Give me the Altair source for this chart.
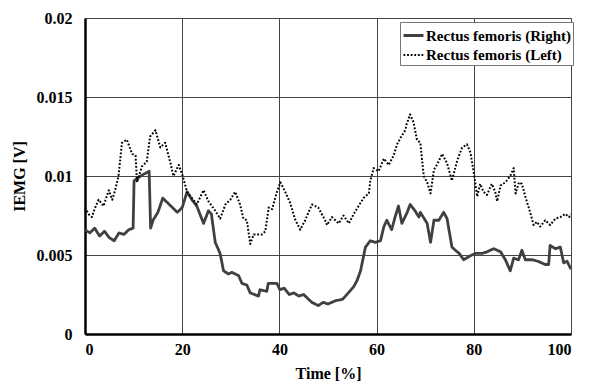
import altair as alt
import pandas as pd

# Rectus femoris (Right) - solid
right_x = [0, 1, 2, 3, 4, 5, 6, 7, 8, 9, 9.9, 10.1, 11, 12, 13.2, 13.5, 14, 15, 16, 17, 18, 19, 20, 21,
           22, 23, 24.4, 25.4, 26, 26.8, 27.8, 28.5, 29.5, 30.2, 31.6, 32.3, 33.3, 34, 35.7, 36, 37.4,
           37.7, 39.5, 40.1, 41, 42, 43, 44, 45, 46, 46.7, 48, 49, 50, 51.5, 53, 53.6, 55.3, 56, 56.7,
           57.7, 58.7, 59.7, 60.8, 61.5, 62.1, 63.1, 63.8, 64.5, 65.2, 66.3, 66.9, 67.9, 68.7, 69, 70.4,
           71.1, 71.8, 72.8, 73.8, 74.5, 75.5, 76.2, 77, 77.9, 79, 80.3, 81.7, 82.7, 84.1, 85.5, 86.5,
           87.5, 88.2, 89.2, 89.9, 90.6, 92, 93.2, 94.7, 95.4, 95.7, 96.8, 97.8, 98.5, 99.2, 100]
right_y = [0.0066, 0.0064, 0.0067, 0.0062, 0.0065, 0.0061, 0.0059, 0.0064, 0.0063, 0.0066, 0.0067,
           0.0097, 0.0099, 0.0101, 0.0103, 0.0067, 0.0072, 0.0077, 0.0086, 0.0083, 0.0080, 0.0077,
           0.0080, 0.0090, 0.0085, 0.0081, 0.0070, 0.0078, 0.0076, 0.0058, 0.0051, 0.0040, 0.0038,
           0.0039, 0.0037, 0.0032, 0.0031, 0.0026, 0.0024, 0.0028, 0.0027, 0.0032, 0.0032, 0.0028,
           0.0029, 0.0025, 0.0026, 0.0024, 0.0025, 0.0022, 0.0020, 0.0018, 0.0020, 0.0019, 0.0021,
           0.0022, 0.0024, 0.0030, 0.0034, 0.0040, 0.0055, 0.0059, 0.0058, 0.0059, 0.0068, 0.0072,
           0.0066, 0.0074, 0.0081, 0.0070, 0.0077, 0.0082, 0.0078, 0.0074, 0.0077, 0.0070, 0.0058,
           0.0072, 0.0072, 0.0077, 0.0073, 0.0055, 0.0053, 0.0051, 0.0047, 0.0049, 0.0051, 0.0051,
           0.0052, 0.0054, 0.0052, 0.0047, 0.0040, 0.0048, 0.0047, 0.0053, 0.0047, 0.0047, 0.0046,
           0.0044, 0.0044, 0.0056, 0.0054, 0.0055, 0.0045, 0.0046, 0.0041]

# Rectus femoris (Left) - dotted
left_x = [0, 0.7, 1.4, 2.1, 2.8, 3.8, 4.9, 5.6, 6.2, 6.9, 7.6, 8.6, 9.7, 10.4, 10.7, 11.7, 12.7, 13.4,
          14.5, 15.5, 16.5, 17.6, 18.2, 19.3, 20, 21, 22, 23, 24.4, 25.4, 26.8, 27.8, 28.9, 29.9, 30.9,
          31.9, 32.6, 33.3, 34, 34.7, 36.4, 37.1, 37.8, 38.5, 39.5, 40.2, 41.2, 42.2, 43.3, 44.3, 45.3,
          46.7, 48, 49.4, 49.8, 50.8, 52.2, 53.2, 54.3, 55.3, 56.3, 57.3, 58.4, 58.7, 59.4, 60.4, 61.5,
          62.5, 63.5, 64.2, 64.9, 65.9, 66.2, 66.9, 67.6, 68.3, 69, 69.7, 70.4, 71.1, 71.8, 72.4, 73.5,
          74.5, 75.5, 76.6, 77.6, 78.6, 79.3, 80, 80.7, 81.3, 82, 82.7, 83.7, 84.4, 84.8, 85.5, 86.5,
          87.5, 88.2, 88.6, 89.3, 89.9, 90.6, 91.6, 92.3, 93, 93.7, 94.7, 95.7, 96.8, 97.8, 98.8, 99.6, 100]
left_y = [0.0080, 0.0076, 0.0074, 0.0080, 0.0085, 0.0081, 0.0091, 0.0085, 0.0091, 0.0100, 0.0121,
          0.0123, 0.0114, 0.0113, 0.0096, 0.0106, 0.0109, 0.0125, 0.0129, 0.0118, 0.0121, 0.0108,
          0.0100, 0.0107, 0.0101, 0.0090, 0.0086, 0.0082, 0.0091, 0.0084, 0.0078, 0.0073, 0.0082,
          0.0085, 0.0090, 0.0082, 0.0073, 0.0072, 0.0057, 0.0063, 0.0063, 0.0065, 0.0080, 0.0079,
          0.0090, 0.0096, 0.0090, 0.0083, 0.0072, 0.0066, 0.0072, 0.0082, 0.0080, 0.0072, 0.0069,
          0.0074, 0.0070, 0.0075, 0.0070, 0.0076, 0.0081, 0.0086, 0.0089, 0.0097, 0.0105, 0.0103,
          0.0111, 0.0107, 0.0113, 0.0120, 0.0124, 0.0129, 0.0133, 0.0139, 0.0134, 0.0123, 0.0121,
          0.0100, 0.0096, 0.0089, 0.0104, 0.0107, 0.0114, 0.0108, 0.0097, 0.0110, 0.0118, 0.0120,
          0.0115, 0.0102, 0.0087, 0.0095, 0.0090, 0.0088, 0.0095, 0.0090, 0.0084, 0.0094, 0.0096,
          0.0100, 0.0105, 0.0089, 0.0096, 0.0095, 0.0087, 0.0077, 0.0069, 0.0071, 0.0068, 0.0072,
          0.0069, 0.0073, 0.0074, 0.0076, 0.0074, 0.0076]

series_names = ["Rectus femoris (Right)", "Rectus femoris (Left)"]
x_ticks = [0, 20, 40, 60, 80, 100]
y_ticks = [0, 0.005, 0.01, 0.015, 0.02]

df = pd.concat([
    pd.DataFrame({"time": right_x, "iemg": right_y, "series": series_names[0], "order": range(len(right_x))}),
    pd.DataFrame({"time": left_x, "iemg": left_y, "series": series_names[1], "order": range(len(left_x))}),
])

FONT = "Liberation Serif"

chart = alt.Chart(df).mark_line(strokeJoin="round").encode(
    x=alt.X("time:Q", title="Time [%]",
            scale=alt.Scale(domain=[0, 100], nice=False),
            axis=alt.Axis(values=x_ticks, ticks=False, labelPadding=7, titlePadding=8,
                          gridColor="#444", gridWidth=1, domainColor="#000", domainWidth=2.5)),
    y=alt.Y("iemg:Q", title="IEMG [V]",
            scale=alt.Scale(domain=[0, 0.02], nice=False),
            axis=alt.Axis(values=y_ticks, format="~g", ticks=False, labelPadding=13,
                          titlePadding=9,
                          gridColor="#444", gridWidth=1, domainColor="#000", domainWidth=2.5)),
    color=alt.Color("series:N", title=None,
                    scale=alt.Scale(domain=series_names, range=["#404040", "#000000"])),
    strokeDash=alt.StrokeDash("series:N", title=None,
                              scale=alt.Scale(domain=series_names, range=[[1, 0], [1.8, 1.8]])),
    strokeWidth=alt.StrokeWidth("series:N", title=None,
                                scale=alt.Scale(domain=series_names, range=[2.8, 2.0])),
    order="order:Q",
    detail="series:N",
).properties(
    width=486, height=316,
    autosize=alt.AutoSizeParams(type="none"),
    padding={"left": 85, "top": 18, "right": 18, "bottom": 56},
).configure_view(strokeWidth=0).configure_axis(
    labelFont=FONT, titleFont=FONT, labelFontSize=16, titleFontSize=16,
    labelFontWeight="bold", titleFontWeight="bold", labelColor="#000", titleColor="#000",
).configure_legend(
    orient="none", legendX=315, legendY=4,
    labelFont=FONT, labelFontSize=15, labelFontWeight="bold", labelColor="#000",
    fillColor="white", strokeColor="#777", padding=2,
    symbolType="stroke", symbolSize=400, rowPadding=0,
    labelOffset=1,
)

chart.save("out.html", embed_options={"renderer": "svg", "actions": False})
